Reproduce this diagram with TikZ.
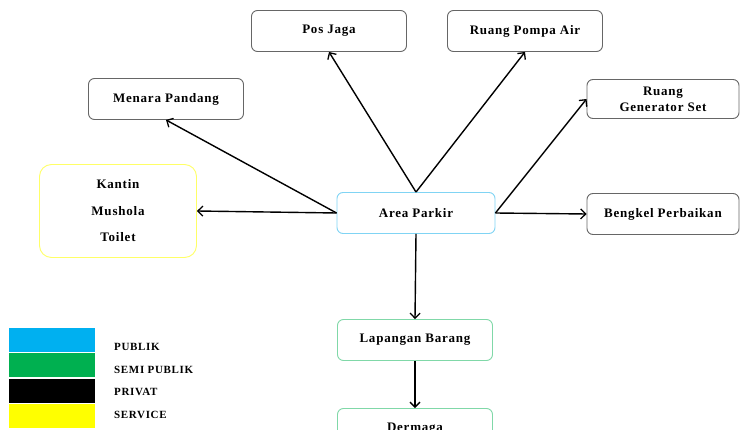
\documentclass[tikz,border=0pt]{standalone}
\usepackage{fontspec}
\setmainfont{Liberation Serif}
\usetikzlibrary{arrows.meta}
\definecolor{publik}{HTML}{00B0F0}
\definecolor{semipublik}{HTML}{00B050}
\definecolor{service}{HTML}{FFFF00}
\definecolor{boxgray}{HTML}{666666}
\definecolor{edgeblue}{HTML}{80D4F4}
\definecolor{edgegreen}{HTML}{80D8A8}
\definecolor{edgeyellow}{HTML}{FFFF66}
\newfontfamily\spacedserif[LetterSpace=6]{Liberation Serif}
\tikzset{
  room/.style={draw=boxgray, line width=0.9pt, rounded corners=6pt, fill=white,
    minimum width=155pt, minimum height=41pt, inner sep=0pt, align=center,
    font=\spacedserif\bfseries\fontsize{13}{16}\selectfont},
  link/.style={line width=1.4pt, -{Straight Barb[length=5pt,width=10pt,line width=1.3pt]}},
  swatch/.style={draw=none, minimum width=86pt, minimum height=24pt, inner sep=0pt},
  legtext/.style={anchor=west, inner sep=0pt, font=\spacedserif\bfseries\fontsize{11}{12}\selectfont}
}
\begin{document}
\begin{tikzpicture}[x=1pt, y=-1pt]
\useasboundingbox (0,0) rectangle (740,430);

% rooms
\node[room] (pj) at (329,31) {Pos Jaga};
\node[room] (pa) at (525,31) {Ruang Pompa Air};
\node[room] (mp) at (166,99) {Menara Pandang};
\node[room, minimum width=152pt, minimum height=39pt] (gs) at (663,99) {Ruang\\Generator Set};
\node[room, minimum width=152pt] (bk) at (663,214) {Bengkel Perbaikan};
\node[room, draw=edgeyellow, minimum width=157pt, minimum height=93pt,
  rounded corners=12pt, font=\spacedserif\bfseries\fontsize{13}{26.5}\selectfont] (kt) at (118,211)
  {Kantin\\Mushola\\Toilet};
\node[room, draw=edgeblue, minimum width=158pt] (ap) at (416,213) {Area Parkir};
\node[room, draw=edgegreen] (lb) at (415,340) {Lapangan Barang};
\node[room, draw=edgegreen] (dm) at (415,429) {Dermaga};

% circulation links
\draw[link] (ap.north) -- (pj.south);
\draw[link] (ap.north) -- (pa.south);
\draw[link] (ap.west) -- (mp.south);
\draw[link] (ap.west) -- (kt.east);
\draw[link] (ap.east) -- (gs.west);
\draw[link] (ap.east) -- (bk.west);
\draw[link] (ap.south) -- (lb.north);
\draw[link] (lb.south) -- (dm.north);

% zoning legend
\node[swatch, fill=publik] (s1) at (52,340) {};
\node[swatch, fill=semipublik] (s2) at (52,365) {};
\node[swatch, fill=black] (s3) at (52,391) {};
\node[swatch, fill=service] (s4) at (52,416) {};
\node[legtext] (l1) at (114,347) {PUBLIK};
\node[legtext] (l2) at (114,370) {SEMI PUBLIK};
\node[legtext] (l3) at (114,392) {PRIVAT};
\node[legtext] (l4) at (114,415) {SERVICE};
\end{tikzpicture}
\end{document}
